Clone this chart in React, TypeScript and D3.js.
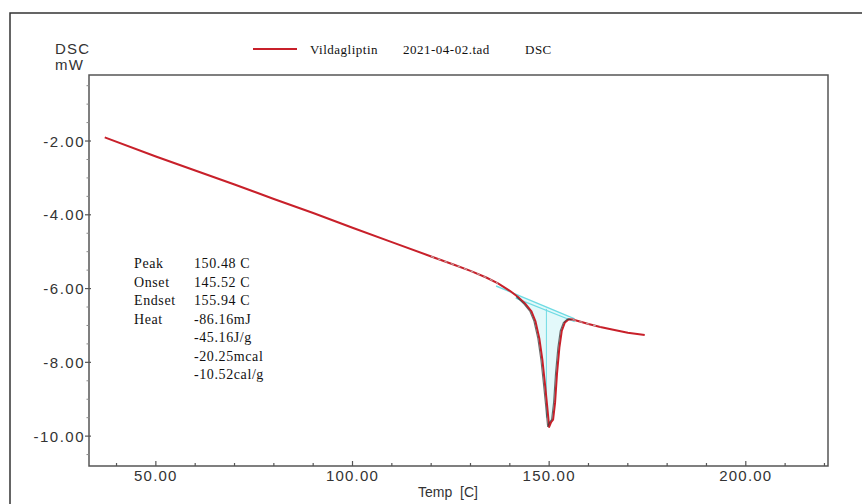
import React from 'react';
import * as d3 from 'd3';

// DATA
const temps = [37, 50, 60, 70, 80, 90, 100, 110, 120, 126, 130, 134, 137, 140, 142, 144, 145.5, 146.5, 147.5, 148.3, 149.0, 149.6, 150.0, 150.5, 151.0, 151.5, 152.0, 152.6, 153.2, 154.0, 155.0, 156.0, 158, 160, 163, 166, 170, 174.3];
const dsc = [-1.9, -2.42, -2.8, -3.18, -3.57, -3.95, -4.35, -4.74, -5.13, -5.36, -5.52, -5.7, -5.86, -6.06, -6.22, -6.42, -6.62, -6.88, -7.35, -7.95, -8.65, -9.3, -9.75, -9.62, -9.55, -9.1, -8.3, -7.6, -7.15, -6.92, -6.83, -6.84, -6.9, -6.96, -7.04, -7.11, -7.2, -7.26];

// analysis lines (baseline + tangent + peak marker)
const baseTemps = [136.5, 156.5];
const baseDsc = [-5.93, -6.82];
const tangentTemps = [141.5, 156.5];
const tangentDsc = [-6.26, -6.9];
const peakMarkTemp = 149.3;
const peakMarkDsc = [-6.55, -9.5];

const xMajor = [50, 100, 150, 200];
const yMajor = [-2, -4, -6, -8, -10];

const resultLabels = ['Peak', 'Onset', 'Endset', 'Heat', '', '', ''];
const resultValues = ['150.48 C', '145.52 C', '155.94 C', '-86.16mJ', '-45.16J/g', '-20.25mcal', '-10.52cal/g'];

const legendName = 'Vildagliptin';
const legendFile = '2021-04-02.tad';
const legendKind = 'DSC';

export default function App() {
  const width = 862;
  const height = 504;
  const plot = { left: 89, right: 828, top: 75, bottom: 466 };

  const x = d3.scaleLinear().domain([33, 220.9]).range([plot.left, plot.right]);
  const y = d3.scaleLinear().domain([-0.21, -10.81]).range([plot.top, plot.bottom]);

  const pts = temps.map((t, i) => ({ t, v: dsc[i] }));
  const line = d3.line<{ t: number; v: number }>().x(d => x(d.t)).y(d => y(d.v));

  const mainPath = line(pts) || '';
  const peakPts = pts.filter(d => d.t >= 141 && d.t <= 156);
  const overlayPath = line(peakPts) || '';
  const dashA = line(pts.filter(d => d.t >= 120 && d.t <= 137)) || '';
  const dashB = line(pts.filter(d => d.t >= 156 && d.t <= 163)) || '';

  // peak area fill between curve and baseline
  const baseAt = d3.scaleLinear().domain(baseTemps).range(baseDsc);
  const area = d3.area<{ t: number; v: number }>()
    .x(d => x(d.t))
    .y0(d => y(baseAt(d.t)))
    .y1(d => y(d.v));
  const areaPath = area(pts.filter(d => d.t >= 142 && d.t <= 155)) || '';

  const xMinor = d3.range(40, 221, 10).filter(v => !xMajor.includes(v));
  const yMinor = d3.range(-0.5, -10.6, -0.5).filter(v => !yMajor.includes(v));

  const sans = 'Arial, "Liberation Sans", sans-serif';
  const serif = '"Times New Roman", "Liberation Serif", serif';
  const axisColor = '#555';
  const textColor = '#333';
  const cyan = '#6fdbe3';

  return (
    <svg width={width} height={height} style={{ position: 'absolute', left: 0, top: 0, background: '#fff' }}>
      {/* outer frame */}
      <rect x={10} y={13} width={900} height={600} fill="none" stroke="#333" strokeWidth={1.5} />

      {/* legend */}
      <line x1={253} x2={297} y1={49} y2={49} stroke="#c8202a" strokeWidth={2} />
      <g fontFamily={serif} fontSize={13} fill="#111" letterSpacing={0.5}>
        <text x={310} y={54}>{legendName}</text>
        <text x={403} y={54}>{legendFile}</text>
        <text x={525} y={54}>{legendKind}</text>
      </g>

      {/* y axis title */}
      <g fontFamily={sans} fontSize={15} fill={textColor} letterSpacing={1.2}>
        <text x={55} y={54}>DSC</text>
        <text x={55} y={70}>mW</text>
      </g>

      {/* plot frame */}
      <rect x={plot.left} y={plot.top} width={plot.right - plot.left} height={plot.bottom - plot.top}
        fill="none" stroke={axisColor} strokeWidth={1.5} />

      {/* y ticks */}
      {yMajor.map(v => (
        <g key={'ym' + v}>
          <line x1={plot.left - 4} x2={plot.left + 2} y1={y(v)} y2={y(v)} stroke={axisColor} strokeWidth={1.2} />
          <text x={plot.left - 4} y={y(v) + 5.5} textAnchor="end" fontFamily={sans} fontSize={15}
            fill={textColor} letterSpacing={1.5}>{v.toFixed(2)}</text>
        </g>
      ))}
      {yMinor.map(v => (
        <line key={'yn' + v} x1={plot.left - 2.5} x2={plot.left + 1} y1={y(v)} y2={y(v)} stroke="#888" strokeWidth={1} />
      ))}

      {/* x ticks */}
      {xMajor.map(v => (
        <g key={'xm' + v}>
          <line x1={x(v)} x2={x(v)} y1={plot.bottom - 5} y2={plot.bottom} stroke={axisColor} strokeWidth={1.2} />
          <text x={x(v)} y={481} textAnchor="middle" fontFamily={sans} fontSize={15}
            fill={textColor} letterSpacing={1.2}>{v.toFixed(2)}</text>
        </g>
      ))}
      {xMinor.map(v => (
        <line key={'xn' + v} x1={x(v)} x2={x(v)} y1={plot.bottom - 3} y2={plot.bottom} stroke={axisColor} strokeWidth={1.2} />
      ))}
      <text x={418} y={497} fontFamily={sans} fontSize={14} fill={textColor} style={{ whiteSpace: 'pre' }}>Temp  [C]</text>

      {/* peak analysis */}
      <path d={areaPath} fill="#e3f9fa" stroke="none" />
      <line x1={x(baseTemps[0])} x2={x(baseTemps[1])} y1={y(baseDsc[0])} y2={y(baseDsc[1])} stroke={cyan} strokeWidth={1.4} />
      <line x1={x(tangentTemps[0])} x2={x(tangentTemps[1])} y1={y(tangentDsc[0])} y2={y(tangentDsc[1])} stroke={cyan} strokeWidth={1.2} />
      <line x1={x(peakMarkTemp)} x2={x(peakMarkTemp)} y1={y(peakMarkDsc[0])} y2={y(peakMarkDsc[1])} stroke={cyan} strokeWidth={1} />

      {/* DSC curve */}
      <path d={mainPath} fill="none" stroke="#c8202a" strokeWidth={2} strokeLinejoin="round" />
      <path d={overlayPath} fill="none" stroke="#3a3a3a" strokeWidth={1.1} opacity={0.75} transform="translate(-1.5,0)" />
      <path d={dashA} fill="none" stroke="#bbb" strokeWidth={1} strokeDasharray="3,4" />
      <path d={dashB} fill="none" stroke="#bbb" strokeWidth={1} strokeDasharray="3,4" />

      {/* results */}
      <g fontFamily={serif} fontSize={14} fill="#111" letterSpacing={0.6}>
        {resultLabels.map((l, i) => (
          <text key={'l' + i} x={134} y={268 + i * 18.5}>{l}</text>
        ))}
        {resultValues.map((v, i) => (
          <text key={'v' + i} x={194} y={268 + i * 18.5}>{v}</text>
        ))}
      </g>
    </svg>
  );
}
